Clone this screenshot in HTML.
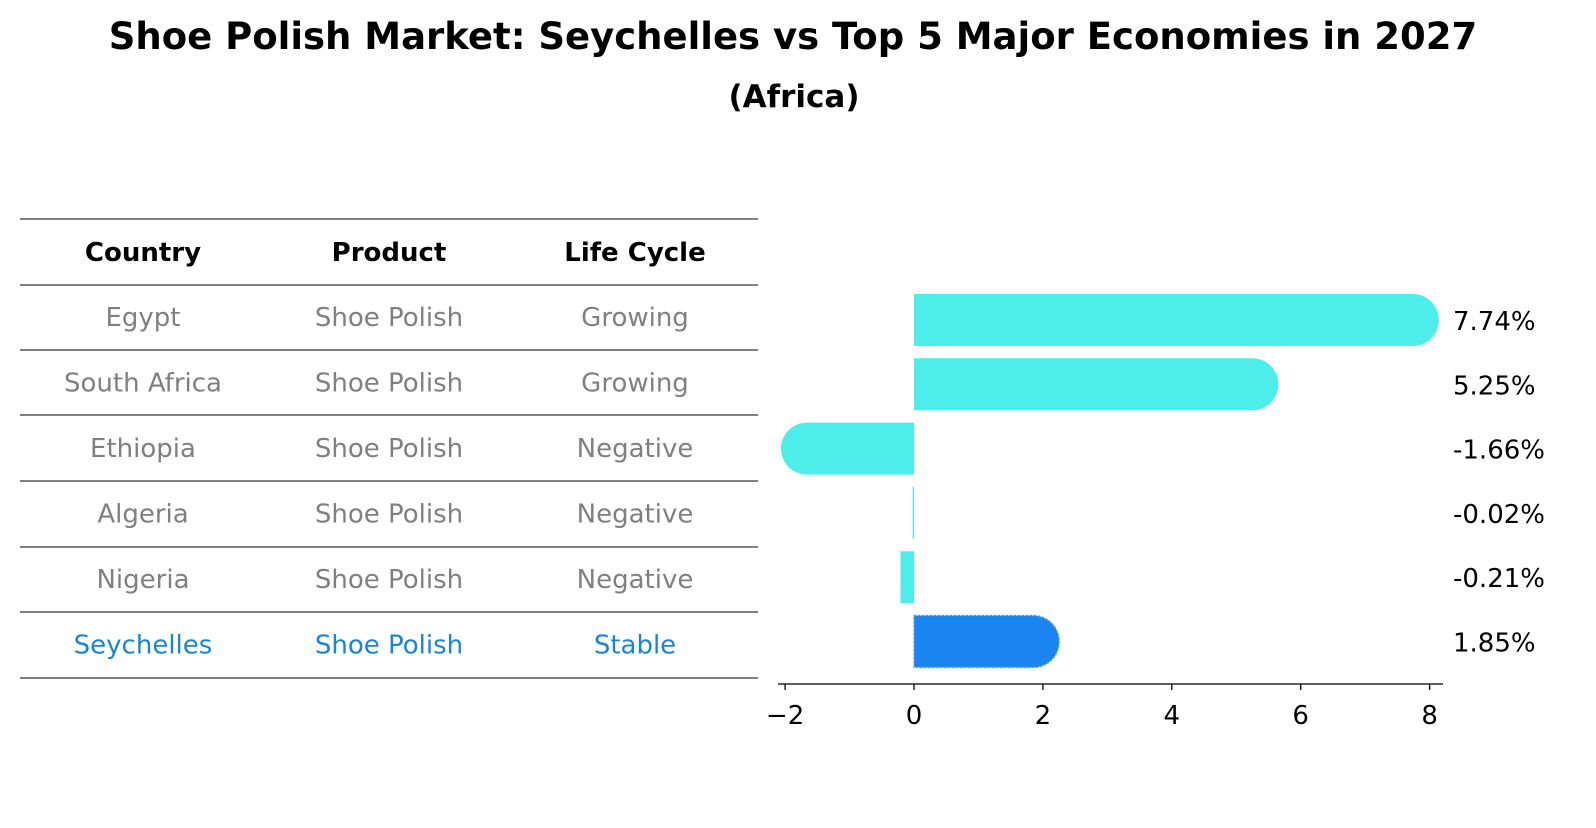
<!DOCTYPE html>
<html><head><meta charset="utf-8"><style>
body{margin:0;background:#fff;font-family:"Liberation Sans","DejaVu Sans",sans-serif}
</style></head><body>
<svg width="1596" height="823" xmlns="http://www.w3.org/2000/svg" font-family="DejaVu Sans, Liberation Sans, sans-serif">
<text x="793" y="49" text-anchor="middle" font-size="37" font-weight="bold">Shoe Polish Market: Seychelles vs Top 5 Major Economies in 2027</text>
<text x="794" y="107" text-anchor="middle" font-size="31" font-weight="bold">(Africa)</text>
<g id="table"></g>
<g id="bars"></g>
</svg>
<script>
const countries=["Egypt","South Africa","Ethiopia","Algeria","Nigeria","Seychelles"];
const products=["Shoe Polish","Shoe Polish","Shoe Polish","Shoe Polish","Shoe Polish","Shoe Polish"];
const lifeCycles=["Growing","Growing","Negative","Negative","Negative","Stable"];
const growth=[7.74,5.25,-1.66,-0.02,-0.21,1.85];
const xTicks=[-2,0,2,4,6,8];
const NS="http://www.w3.org/2000/svg";
function mk(tag,attrs,parent){const e=document.createElementNS(NS,tag);for(const k in attrs)e.setAttribute(k,attrs[k]);parent.appendChild(e);return e;}
const tbl=document.getElementById('table'),bars=document.getElementById('bars');
const lineYs=[219,285,350,415,481,547,612,678];
lineYs.forEach(y=>{const l=mk('line',{x1:20,x2:758,y1:y,y2:y,stroke:'#000','stroke-width':1},tbl);

});
const colX=[143,389,635];
["Country","Product","Life Cycle"].forEach((h,i)=>{const t=mk('text',{x:colX[i],y:261,'text-anchor':'middle','font-size':26,'font-weight':'bold'},tbl);t.textContent=h;

});
const rowY=i=>317+i*65.5;
countries.forEach((c,i)=>{const col=i===5?'#1a85d8':'#808080';[c,products[i],lifeCycles[i]].forEach((v,j)=>{const t=mk('text',{x:colX[j],y:rowY(i)+9,'text-anchor':'middle','font-size':26,fill:col},tbl);t.textContent=v;

});});
const x0=914,sc=64.45,xs=v=>x0+v*sc;
const by=i=>320+i*64.3,bh=52,r=26;
growth.forEach((v,i)=>{const yc=by(i),col=i===5?'#1a85f0':'#4deee9';
const a=xs(0),b=xs(v);const left=Math.min(a,b),right=Math.max(a,b);
let d;
if(Math.abs(v)>1){ if(v>0) d=`M${left},${yc-r}H${right}A${r},${r} 0 0 1 ${right},${yc+r}H${left}Z`;
 else d=`M${right},${yc-r}H${left}A${r},${r} 0 0 0 ${left},${yc+r}H${right}Z`;}
else d=`M${left},${yc-r}H${Math.max(right,left+1)}V${yc+r}H${left}Z`;
const p=mk('path',{d:d,fill:col},bars);
if(i===5){p.setAttribute('stroke','#5aa0e6');p.setAttribute('stroke-dasharray','2,2');p.setAttribute('stroke-width','1.5');}


const t=mk('text',{x:1453,y:yc+10,'font-size':26},bars);t.textContent=v.toFixed(2)+'%';

});
const ax=mk('line',{x1:778,x2:1443,y1:684,y2:684,stroke:'#000','stroke-width':1.3},bars);


xTicks.forEach(v=>{const tk=mk('line',{x1:xs(v),x2:xs(v),y1:684,y2:690,stroke:'#000','stroke-width':1.3},bars);


const t=mk('text',{x:xs(v),y:724,'text-anchor':'middle','font-size':26},bars);t.textContent=v<0?'\u2212'+Math.abs(v):v;

});
</script>
</body></html>
